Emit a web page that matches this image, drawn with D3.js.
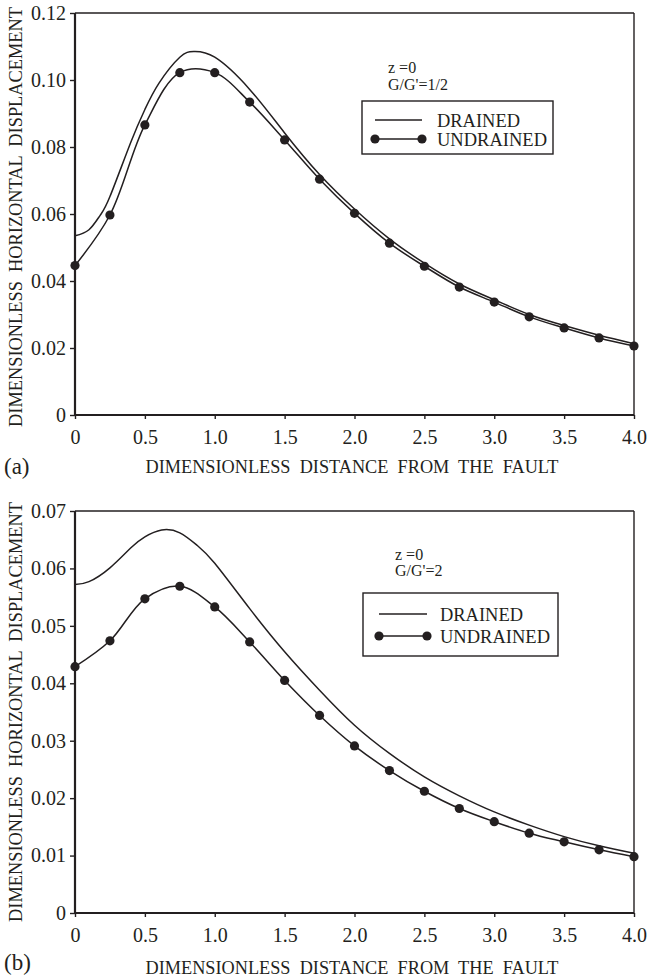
<!DOCTYPE html>
<html>
<head>
<meta charset="utf-8">
<script src="https://cdn.jsdelivr.net/npm/d3@7"></script>
<style>
  body { margin: 0; background: #fff; }
  svg text { font-family: "Liberation Serif", "Times New Roman", serif; fill: #231f20; }
</style>
</head>
<body>
<svg id="chart" width="647" height="979"></svg>
<script>
// ---------- DATA ----------
const xTicks = [0, 0.5, 1.0, 1.5, 2.0, 2.5, 3.0, 3.5, 4.0];
const xTickLabels = ["0", "0.5", "1.0", "1.5", "2.0", "2.5", "3.0", "3.5", "4.0"];

// Panel (a): G/G' = 1/2
const aYTicks = [0, 0.02, 0.04, 0.06, 0.08, 0.10, 0.12];
const aYTickLabels = ["0", "0.02", "0.04", "0.06", "0.08", "0.10", "0.12"];
const aDrainedX = [0, 0.1, 0.18, 0.25, 0.4, 0.5, 0.6, 0.75, 0.85, 1.0, 1.25, 1.5, 1.75, 2.0, 2.25, 2.5, 2.75, 3.0, 3.25, 3.5, 3.75, 4.0];
const aDrainedY = [0.0535, 0.0553, 0.0596, 0.0652, 0.0815, 0.0912, 0.0990, 0.1068, 0.1085, 0.1068, 0.0972, 0.0842, 0.0718, 0.0615, 0.0526, 0.0453, 0.0391, 0.0344, 0.0300, 0.0267, 0.0238, 0.0213];
const aUndrainedX = [0, 0.25, 0.5, 0.75, 1.0, 1.25, 1.5, 1.75, 2.0, 2.25, 2.5, 2.75, 3.0, 3.25, 3.5, 3.75, 4.0];
const aUndrainedY = [0.0446, 0.0597, 0.0866, 0.1022, 0.1022, 0.0934, 0.0821, 0.0704, 0.0602, 0.0513, 0.0444, 0.0382, 0.0337, 0.0293, 0.0260, 0.0230, 0.0206];

// Panel (b): G/G' = 2
const bYTicks = [0, 0.01, 0.02, 0.03, 0.04, 0.05, 0.06, 0.07];
const bYTickLabels = ["0", "0.01", "0.02", "0.03", "0.04", "0.05", "0.06", "0.07"];
const bDrainedX = [0, 0.1, 0.25, 0.4, 0.5, 0.62, 0.75, 0.875, 1.0, 1.25, 1.5, 1.75, 2.0, 2.25, 2.5, 2.75, 3.0, 3.25, 3.5, 3.75, 4.0];
const bDrainedY = [0.0572, 0.0577, 0.0601, 0.0636, 0.0655, 0.0667, 0.0662, 0.0640, 0.0609, 0.0530, 0.0455, 0.0388, 0.0327, 0.0278, 0.0237, 0.0204, 0.0176, 0.0153, 0.0133, 0.0117, 0.0104];
const bUndrainedX = [0, 0.25, 0.5, 0.75, 1.0, 1.25, 1.5, 1.75, 2.0, 2.25, 2.5, 2.75, 3.0, 3.25, 3.5, 3.75, 4.0];
const bUndrainedY = [0.0429, 0.0474, 0.0547, 0.0569, 0.0533, 0.0472, 0.0405, 0.0344, 0.0291, 0.0248, 0.0212, 0.0182, 0.0159, 0.0139, 0.0124, 0.0110, 0.0098];

const legendLabels = ["DRAINED", "UNDRAINED"];
const xTitle = "DIMENSIONLESS  DISTANCE  FROM  THE  FAULT";
const yTitle = "DIMENSIONLESS  HORIZONTAL  DISPLACEMENT";

// ---------- DRAW ----------
const svg = d3.select("#chart");
const ink = "#231f20";

function drawPanel(cfg) {
  const L = 75, R = 634;
  const x = d3.scaleLinear().domain([0, 4]).range([L, R]);
  const y = d3.scaleLinear().domain([0, cfg.yMax]).range([cfg.bottom, cfg.top]);
  const g = svg.append("g");

  // frame top/right
  g.append("line").attr("x1", L).attr("x2", R).attr("y1", cfg.top).attr("y2", cfg.top)
    .attr("stroke", ink).attr("stroke-width", 1.4);
  g.append("line").attr("x1", R).attr("x2", R).attr("y1", cfg.top).attr("y2", cfg.bottom)
    .attr("stroke", ink).attr("stroke-width", 1.4);

  // x axis
  const xAxis = d3.axisBottom(x).tickValues(xTicks).tickSize(4).tickPadding(11)
    .tickFormat((d, i) => xTickLabels[i]);
  const gx = g.append("g").attr("transform", `translate(0,${cfg.bottom})`).call(xAxis);
  gx.select(".domain").attr("stroke", ink).attr("stroke-width", 2.2).attr("d", `M${L},0H${R}`);
  gx.selectAll(".tick line").attr("stroke", ink).attr("stroke-width", 1.4);
  gx.selectAll(".tick text").attr("font-size", 20).attr("font-family", "Liberation Serif").attr("fill", ink);

  // y axis
  const yAxis = d3.axisLeft(y).tickValues(cfg.yTicks).tickSize(5).tickPadding(4)
    .tickFormat((d, i) => cfg.yTickLabels[i]);
  const gy = g.append("g").attr("transform", `translate(${L},0)`).call(yAxis);
  gy.select(".domain").attr("stroke", ink).attr("stroke-width", 2.2).attr("d", `M0,${cfg.bottom}V${cfg.top}`);
  gy.selectAll(".tick line").attr("stroke", ink).attr("stroke-width", 1.4);
  gy.selectAll(".tick text").attr("font-size", 20).attr("font-family", "Liberation Serif").attr("fill", ink);

  const lineD = d3.line().x(d => x(d[0])).y(d => y(d[1])).curve(d3.curveNatural);
  const lineU = d3.line().x(d => x(d[0])).y(d => y(d[1])).curve(d3.curveCatmullRom.alpha(0.5));

  const drained = cfg.dX.map((v, i) => [v, cfg.dY[i]]);
  const undrained = cfg.uX.map((v, i) => [v, cfg.uY[i]]);

  g.append("path").attr("d", lineD(drained)).attr("fill", "none").attr("stroke", ink).attr("stroke-width", 1.5);
  g.append("path").attr("d", lineU(undrained)).attr("fill", "none").attr("stroke", ink).attr("stroke-width", 1.5);
  g.selectAll("circle.pt").data(undrained).enter().append("circle").attr("class", "pt")
    .attr("cx", d => x(d[0])).attr("cy", d => y(d[1])).attr("r", 4.6).attr("fill", ink);

  // titles
  g.append("text").attr("x", 352).attr("y", cfg.xTitleY).attr("text-anchor", "middle")
    .attr("font-size", 19).attr("textLength", 413).attr("lengthAdjust", "spacingAndGlyphs")
    .style("white-space", "pre").text(xTitle);
  g.append("text").attr("transform", `translate(22,${cfg.yTitleC}) rotate(-90)`).attr("text-anchor", "middle")
    .attr("font-size", 18).attr("textLength", cfg.yTitleLen).attr("lengthAdjust", "spacingAndGlyphs")
    .style("white-space", "pre").text(yTitle);
  g.append("text").attr("x", 4).attr("y", cfg.panelY).attr("font-size", 23).text(cfg.panel);

  // annotation
  g.append("text").attr("x", cfg.annX).attr("y", cfg.annY1).attr("font-size", 16).text("z =0");
  g.append("text").attr("x", cfg.annX).attr("y", cfg.annY2).attr("font-size", 16).text(cfg.ratio);

  // legend
  const lg = cfg.legend;
  g.append("rect").attr("x", lg.x0).attr("y", lg.y0).attr("width", lg.x1 - lg.x0).attr("height", lg.y1 - lg.y0)
    .attr("fill", "#fff").attr("stroke", ink).attr("stroke-width", 1.4);
  g.append("line").attr("x1", lg.lx0).attr("x2", lg.lx1).attr("y1", lg.r1).attr("y2", lg.r1)
    .attr("stroke", ink).attr("stroke-width", 1.5);
  g.append("line").attr("x1", lg.lx0).attr("x2", lg.lx1).attr("y1", lg.r2).attr("y2", lg.r2)
    .attr("stroke", ink).attr("stroke-width", 1.5);
  [lg.lx0, lg.lx1].forEach(cx => g.append("circle").attr("cx", cx).attr("cy", lg.r2).attr("r", 4.6).attr("fill", ink));
  g.append("text").attr("x", lg.tx).attr("y", lg.r1 + 7).attr("font-size", 19)
    .attr("textLength", lg.w1).attr("lengthAdjust", "spacingAndGlyphs").text(legendLabels[0]);
  g.append("text").attr("x", lg.tx).attr("y", lg.r2 + 7).attr("font-size", 19)
    .attr("textLength", lg.w2).attr("lengthAdjust", "spacingAndGlyphs").text(legendLabels[1]);
}

drawPanel({
  top: 13, bottom: 415, yMax: 0.12, yTicks: aYTicks, yTickLabels: aYTickLabels,
  dX: aDrainedX, dY: aDrainedY, uX: aUndrainedX, uY: aUndrainedY,
  xTitleY: 473, yTitleC: 217, yTitleLen: 420, panel: "(a)", panelY: 474,
  annX: 388, annY1: 73, annY2: 90, ratio: "G/G'=1/2",
  legend: { x0: 362, x1: 553, y0: 101, y1: 154, lx0: 375, lx1: 422, r1: 120, r2: 139, tx: 437, w1: 83, w2: 110 }
});

drawPanel({
  top: 511, bottom: 913, yMax: 0.07, yTicks: bYTicks, yTickLabels: bYTickLabels,
  dX: bDrainedX, dY: bDrainedY, uX: bUndrainedX, uY: bUndrainedY,
  xTitleY: 974, yTitleC: 712, yTitleLen: 420, panel: "(b)", panelY: 970,
  annX: 395, annY1: 560, annY2: 576, ratio: "G/G'=2",
  legend: { x0: 363, x1: 558, y0: 593, y1: 656, lx0: 379, lx1: 427, r1: 614, r2: 636, tx: 440, w1: 83, w2: 110 }
});
</script>
</body>
</html>
